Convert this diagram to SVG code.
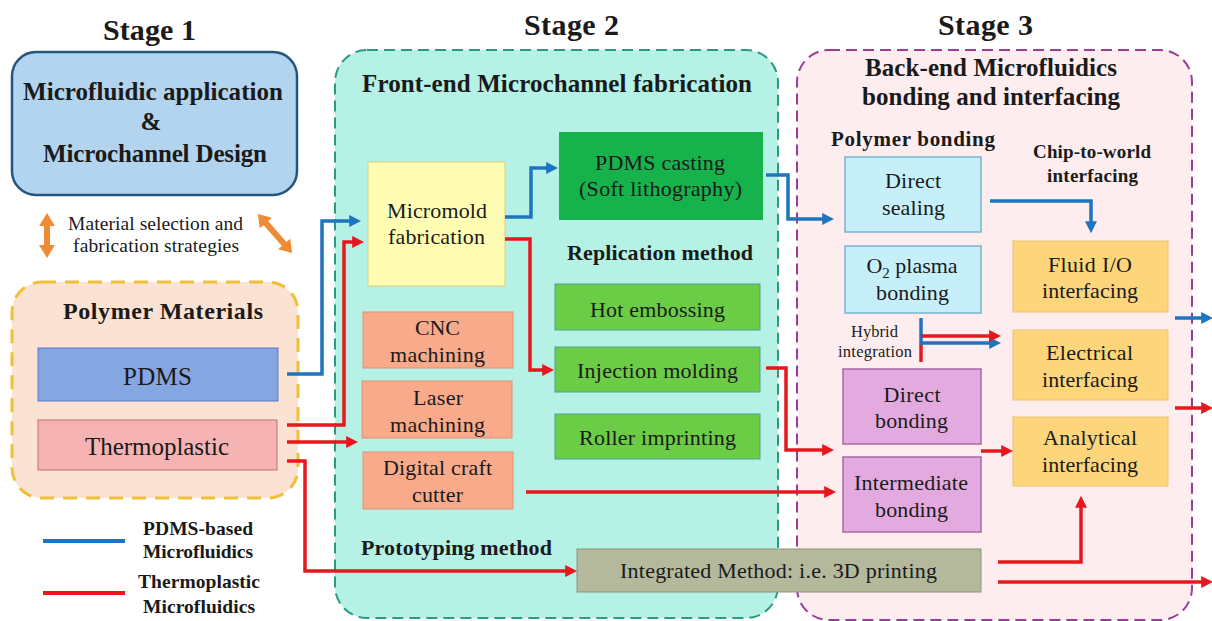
<svg xmlns="http://www.w3.org/2000/svg" width="1212" height="621" viewBox="0 0 1212 621">
<defs>
<style>
text{font-family:'Liberation Serif','Times New Roman','DejaVu Serif',serif;fill:#1a1a1a;text-anchor:middle}
.b{font-weight:bold}
.st{font-size:30px;font-weight:bold}
.h{font-size:25px;font-weight:bold}
.t{font-size:22px}
.cb{fill:none;stroke:#1f74bf;stroke-width:3.5}
.cr{fill:none;stroke:#e8171d;stroke-width:3.5}
</style>
<marker id="mb" viewBox="0 0 10 10" refX="4" refY="5" markerWidth="12" markerHeight="12" markerUnits="userSpaceOnUse" orient="auto"><path d="M0,0 L10,5 L0,10 z" fill="#1f74bf"/></marker>
<marker id="mr" viewBox="0 0 10 10" refX="4" refY="5" markerWidth="12" markerHeight="12" markerUnits="userSpaceOnUse" orient="auto"><path d="M0,0 L10,5 L0,10 z" fill="#e8171d"/></marker>
</defs>
<rect width="1212" height="621" fill="#ffffff"/>

<g font-family="Liberation Serif, Times New Roman, serif">
<!-- stage labels -->
<text class="st" x="149.5" y="40" textLength="93">Stage 1</text>
<text class="st" x="571.5" y="35" textLength="95">Stage 2</text>
<text class="st" x="985.5" y="35" textLength="95">Stage 3</text>

<g id="stage2">
<rect x="335" y="50" width="443" height="568" rx="32" fill="#b5f1e4" stroke="#2b9a82" stroke-width="2" stroke-dasharray="11 6"/>
<text class="h" x="557" y="92" textLength="390">Front-end Microchannel fabrication</text>
<text class="b" x="660" y="260" font-size="22" textLength="186">Replication method</text>
<text class="b" x="456.5" y="555" font-size="22" textLength="191">Prototyping method</text>
</g>
<g id="stage3">
<rect x="797" y="50" width="395" height="570" rx="32" fill="#fdedef" stroke="#9b3d96" stroke-width="2" stroke-dasharray="11 6"/>
<text class="h" x="991" y="76" textLength="252">Back-end Microfluidics</text>
<text class="h" x="991" y="105" textLength="258">bonding and interfacing</text>
<text class="b" x="913" y="146" font-size="21" textLength="164">Polymer bonding</text>
<text class="b" x="1092" y="158" font-size="19" textLength="118">Chip-to-world</text>
<text class="b" x="1092.5" y="182" font-size="19" textLength="91">interfacing</text>
</g>

<g id="design">
<rect x="12" y="52" width="285" height="143" rx="24" fill="#b3d4ee" stroke="#24557f" stroke-width="2.5"/>
<text class="h" x="153" y="100" textLength="260">Microfluidic application</text>
<text class="h" x="151" y="130">&amp;</text>
<text class="h" x="155" y="162" textLength="224">Microchannel Design</text>
</g>

<g id="strategy">
<path d="M47,213 L55,226 L50,226 L50,245 L55,245 L47,258 L39,245 L44,245 L44,226 L39,226 Z" fill="#ef8a35"/>
<path transform="translate(275,233.5) rotate(48.9)" d="M-26,0 L-14,-8 L-14,-3 L14,-3 L14,-8 L26,0 L14,8 L14,3 L-14,3 L-14,8 Z" fill="#ef8a35"/>
<text x="155.5" y="230" font-size="19.5" textLength="175">Material selection and</text>
<text x="156" y="252" font-size="19.5" textLength="166">fabrication strategies</text>
</g>

<g id="polymer">
<rect x="12" y="282" width="286" height="216" rx="30" fill="#fbe2d2" stroke="#f0c038" stroke-width="3" stroke-dasharray="14 9"/>
<text class="b" x="163" y="319" font-size="24" textLength="200">Polymer Materials</text>
</g>
<g id="pdms">
<rect x="38" y="348" width="240" height="53" fill="#86a6e2" stroke="#5a7cc0" stroke-width="1"/>
<text x="157.5" y="385" font-size="25" textLength="69">PDMS</text>
</g>
<g id="thermoplastic">
<rect x="38" y="420" width="239" height="50" fill="#f6b3b3" stroke="#c07070" stroke-width="1"/>
<text x="157" y="455" font-size="25" textLength="144">Thermoplastic</text>
</g>

<g id="legend">
<line x1="43" y1="541" x2="125" y2="541" stroke="#1f74bf" stroke-width="4"/>
<text class="b" x="198" y="535" font-size="19.5" textLength="110">PDMS-based</text>
<text class="b" x="198" y="558" font-size="19.5" textLength="110">Microfluidics</text>
<line x1="43" y1="593" x2="125" y2="593" stroke="#e8171d" stroke-width="4"/>
<text class="b" x="199" y="588" font-size="19.5" textLength="122">Thermoplastic</text>
<text class="b" x="199" y="613" font-size="19.5" textLength="112">Microfluidics</text>
</g>

<!-- stage 2 nodes -->
<g id="micromold">
<rect x="368" y="162" width="137" height="124" fill="#fffdb3" stroke="#e3cf7a" stroke-width="1"/>
<text class="t" x="437" y="218" textLength="100">Micromold</text>
<text class="t" x="436.5" y="244" textLength="97">fabrication</text>
</g>
<g id="pdmscasting">
<rect x="559" y="132" width="204" height="88" fill="#16b24c"/>
<text class="t" x="660" y="170" textLength="130">PDMS casting</text>
<text class="t" x="660.5" y="196" textLength="163">(Soft lithography)</text>
</g>
<g id="hot">
<rect x="555" y="284" width="205" height="46" fill="#6acd45" stroke="#4aa29a" stroke-width="1"/>
<text class="t" x="657.5" y="317" textLength="135">Hot embossing</text>
</g>
<g id="injection">
<rect x="555" y="347" width="205" height="45" fill="#6acd45" stroke="#4aa29a" stroke-width="1"/>
<text class="t" x="657.5" y="378" textLength="161">Injection molding</text>
</g>
<g id="roller">
<rect x="555" y="414" width="205" height="45" fill="#6acd45" stroke="#4aa29a" stroke-width="1"/>
<text class="t" x="657.5" y="445" textLength="157">Roller imprinting</text>
</g>
<g id="cnc">
<rect x="363" y="312" width="150" height="56" fill="#f8aa8a" stroke="#e59070" stroke-width="1"/>
<text class="t" x="437.5" y="335" textLength="45">CNC</text>
<text class="t" x="437.5" y="362" textLength="95">machining</text>
</g>
<g id="laser">
<rect x="362" y="381" width="150" height="57" fill="#f8aa8a" stroke="#e59070" stroke-width="1"/>
<text class="t" x="438" y="405" textLength="50">Laser</text>
<text class="t" x="437.5" y="432" textLength="95">machining</text>
</g>
<g id="craft">
<rect x="363" y="452" width="150" height="57" fill="#f8aa8a" stroke="#e59070" stroke-width="1"/>
<text class="t" x="437.5" y="475" textLength="109">Digital craft</text>
<text class="t" x="437.5" y="502" textLength="51">cutter</text>
</g>
<g id="integrated">
<rect x="577" y="549" width="404" height="43" fill="#b4b99b" stroke="#8d9378" stroke-width="1"/>
<text class="t" x="778.5" y="578" textLength="317">Integrated Method: i.e. 3D printing</text>
</g>

<!-- stage 3 nodes -->
<g id="sealing">
<rect x="845" y="157" width="136" height="75" fill="#c6effa" stroke="#7ab3d0" stroke-width="1.5"/>
<text class="t" x="913" y="188" textLength="56">Direct</text>
<text class="t" x="913.5" y="215" textLength="63">sealing</text>
</g>
<g id="plasma">
<rect x="845" y="246" width="136" height="67" fill="#c6effa" stroke="#7ab3d0" stroke-width="1.5"/>
<text class="t" x="912" y="273">O<tspan font-size="15" dy="5">2</tspan><tspan dy="-5"> plasma</tspan></text>
<text class="t" x="912.5" y="300" textLength="73">bonding</text>
</g>
<g id="hybrid">
<text x="874.5" y="337" font-size="16.5" textLength="47">Hybrid</text>
<text x="875" y="357" font-size="16.5" textLength="74">integration</text>
</g>
<g id="directbonding">
<rect x="843" y="369" width="138" height="75" fill="#e3aadf" stroke="#a868a8" stroke-width="1.5"/>
<text class="t" x="912" y="402" textLength="57">Direct</text>
<text class="t" x="911.5" y="428" textLength="73">bonding</text>
</g>
<g id="intermediate">
<rect x="843" y="457" width="138" height="75" fill="#e3aadf" stroke="#a868a8" stroke-width="1.5"/>
<text class="t" x="911" y="490" textLength="114">Intermediate</text>
<text class="t" x="911.5" y="517" textLength="73">bonding</text>
</g>
<g id="fluid">
<rect x="1013" y="241" width="155" height="71" fill="#fdd67c" stroke="#ecc46a" stroke-width="1"/>
<text class="t" x="1090" y="272" textLength="84">Fluid I/O</text>
<text class="t" x="1090" y="298" textLength="96">interfacing</text>
</g>
<g id="electrical">
<rect x="1013" y="330" width="155" height="70" fill="#fdd67c" stroke="#ecc46a" stroke-width="1"/>
<text class="t" x="1089.5" y="360" textLength="87">Electrical</text>
<text class="t" x="1090" y="387" textLength="96">interfacing</text>
</g>
<g id="analytical">
<rect x="1013" y="417" width="155" height="69" fill="#fdd67c" stroke="#ecc46a" stroke-width="1"/>
<text class="t" x="1090" y="445" textLength="94">Analytical</text>
<text class="t" x="1090" y="472" textLength="96">interfacing</text>
</g>
</g>

<g id="connectors">
<path class="cb" d="M287,374 H322 V221 H354" marker-end="url(#mb)"/>
<path class="cb" d="M505,217 H531 V168 H551" marker-end="url(#mb)"/>
<path class="cb" d="M766,175 H788 V219 H827" marker-end="url(#mb)"/>
<path class="cb" d="M990,201 H1091 V226" marker-end="url(#mb)"/>
<path class="cb" d="M921,318 V345"/>
<path class="cb" d="M921,343 H994" marker-end="url(#mb)"/>
<path class="cb" d="M1175,318 H1206" marker-end="url(#mb)"/>

<path class="cr" d="M287,425 H344 V242 H357" marker-end="url(#mr)"/>
<path class="cr" d="M287,442 H351" marker-end="url(#mr)"/>
<path class="cr" d="M287,461 H305 V571 H570" marker-end="url(#mr)"/>
<path class="cr" d="M505,239 H530 V370 H547" marker-end="url(#mr)"/>
<path class="cr" d="M766,368 H786 V450 H827" marker-end="url(#mr)"/>
<path class="cr" d="M526,492 H829" marker-end="url(#mr)"/>
<path class="cr" d="M921,345 V362"/>
<path class="cr" d="M921,336 H994" marker-end="url(#mr)"/>
<path class="cr" d="M981,451 H1006" marker-end="url(#mr)"/>
<path class="cr" d="M998,562 H1081 V503" marker-end="url(#mr)"/>
<path class="cr" d="M998,582 H1206" marker-end="url(#mr)"/>
<path class="cr" d="M1175,408 H1206" marker-end="url(#mr)"/>
</g>
</svg>
